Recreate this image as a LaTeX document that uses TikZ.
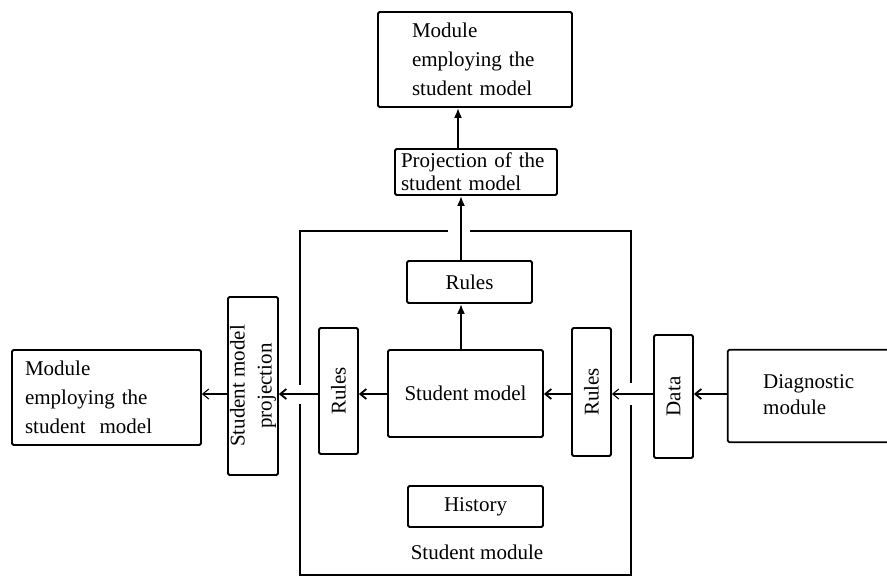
\documentclass[tikz,border=0pt]{standalone}
\usepackage{fontspec}
\setmainfont{Liberation Serif}
\usetikzlibrary{arrows.meta}
\begin{document}
\begin{tikzpicture}[x=1pt,y=-1pt,
  box/.style={draw,line width=1.8pt,rounded corners=1.5pt,inner sep=0pt,font=\fontsize{21}{29}\selectfont},
  lbox/.style={box,align=left},
  vbox/.style={box,rotate=90,align=center,font=\fontsize{21}{27}\selectfont},
  txt/.style={inner sep=0pt,font=\fontsize{21}{29}\selectfont},
  uparr/.style={line width=2.2pt,-{Latex[length=10pt,width=8pt]}},
  lftarr/.style={line width=1.8pt,-{Straight Barb[length=6pt,width=10pt]}},
  thinarr/.style={line width=1.1pt,-{Straight Barb[length=6pt,width=10pt]}},
  wall/.style={line width=1.9pt}]
\useasboundingbox (0,0) rectangle (887,578);

% coordinates for arrow lines
\coordinate (ay) at (0,394);
\coordinate (ax1) at (461,0);
\coordinate (ax2) at (458,0);

% top module
\node[lbox,minimum width=194pt,minimum height=95pt,text width=126pt] (topmod) at (475,59.5)
  {Module\\employing the\\student model};
% projection
\node[lbox,minimum width=162pt,minimum height=46pt,text width=150pt,font=\fontsize{21}{23}\selectfont] (proj) at (476,172)
  {Projection of the\\student model};
% rules top
\node[box,minimum width=125pt,minimum height=42pt] (rtop) at (469.5,282) {Rules};
% student model
\node[box,minimum width=155pt,minimum height=87pt] (sm) at (465.5,393.5) {Student model};
% history
\node[box,minimum width=135pt,minimum height=41pt] (hist) at (475.5,506.5) {History};
\node[txt] (smlabel) at (477,552) {Student module};
% vertical rules
\node[vbox,minimum width=126pt,minimum height=39pt] (rl) at (338.5,391) {Rules};
\node[vbox,minimum width=128pt,minimum height=39pt] (rr) at (591.5,392) {Rules};
\node[vbox,minimum width=123pt,minimum height=39pt] (data) at (673.5,396.5) {Data};
\node[vbox,minimum width=178pt,minimum height=50pt] (smproj) at (253,386) {Student model\\projection};
% left module
\node[lbox,minimum width=189pt,minimum height=95pt,text width=163pt] (lmod) at (106.5,397.5)
  {Module\\employing the\\student\ \ model};
% diagnostic module (open on the right)
\node[inner sep=0pt,minimum width=159pt,minimum height=92pt] (diag) at (807.5,396) {};
\draw[line width=1.8pt,rounded corners=1.5pt] (diag.north east) -- (diag.north west) -- (diag.south west) -- (diag.south east);
\node[txt,anchor=west,align=left,font=\fontsize{21}{26}\selectfont] (diagtxt) at (763,395) {Diagnostic\\module};

% student module wall
\draw[wall] (448,231) -- (300,231) -- (300,385);
\draw[wall] (300,404) -- (300,575) -- (631,575) -- (631,405);
\draw[wall] (631,383) -- (631,231) -- (470,231);

% vertical arrows
\draw[uparr] (sm.north -| ax1) -- (rtop.south -| ax1);
\draw[uparr] (rtop.north -| ax1) -- (proj.south -| ax1);
\draw[uparr] (proj.north -| ax2) -- (topmod.south -| ax2);

% horizontal arrows
\draw[lftarr] (diag.west |- ay) -- (data.south |- ay);
\draw[thinarr] (data.north |- ay) -- (rr.south |- ay);
\draw[lftarr] (rr.north |- ay) -- (sm.east |- ay);
\draw[lftarr] (sm.west |- ay) -- (rl.south |- ay);
\draw[lftarr] (rl.north |- ay) -- (smproj.south |- ay);
\draw[thinarr] (smproj.north |- ay) -- (lmod.east |- ay);
\end{tikzpicture}
\end{document}
